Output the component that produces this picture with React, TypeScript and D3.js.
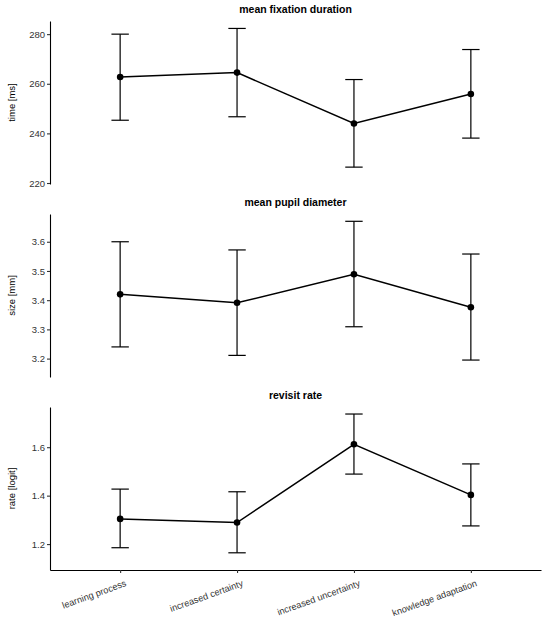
import { useEffect, useRef } from "react"
import * as d3 from "d3"

const categories = ["learning process", "increased certainty", "increased uncertainty", "knowledge adaptation"]

const fixationMean = [262.7, 264.5, 244.0, 255.9]
const fixationLow = [245.3, 246.7, 226.4, 238.1]
const fixationHigh = [280.0, 282.3, 261.7, 273.8]
const fixationTicks = [220, 240, 260, 280]

const pupilMean = [3.42, 3.391, 3.489, 3.376]
const pupilLow = [3.24, 3.211, 3.309, 3.195]
const pupilHigh = [3.6, 3.572, 3.67, 3.558]
const pupilTicks = [3.2, 3.3, 3.4, 3.5, 3.6]

const revisitMean = [1.304, 1.289, 1.612, 1.403]
const revisitLow = [1.185, 1.164, 1.489, 1.275]
const revisitHigh = [1.427, 1.416, 1.737, 1.531]
const revisitTicks = [1.2, 1.4, 1.6]

const FONT = "'Liberation Sans', Arial, Helvetica, sans-serif"

export default function App() {
  const svgRef = useRef<SVGSVGElement>(null)

  useEffect(() => {
    if (!svgRef.current) return
    const svg = d3.select(svgRef.current)
    svg.selectAll("*").remove()

    const width = 550
    const height = 620
    const left = 50
    const right = 541

    const x = d3.scalePoint<string>().domain(categories).range([left, right]).padding(0.6)

    const panels = [
      {
        title: "mean fixation duration",
        ylab: "time [ms]",
        mean: fixationMean,
        low: fixationLow,
        high: fixationHigh,
        ticks: fixationTicks,
        domain: [219.6, 285.3],
        top: 21,
        fmt: d3.format("d"),
      },
      {
        title: "mean pupil diameter",
        ylab: "size [mm]",
        mean: pupilMean,
        low: pupilLow,
        high: pupilHigh,
        ticks: pupilTicks,
        domain: [3.137, 3.695],
        top: 214,
        fmt: d3.format(".1f"),
      },
      {
        title: "revisit rate",
        ylab: "rate [logit]",
        mean: revisitMean,
        low: revisitLow,
        high: revisitHigh,
        ticks: revisitTicks,
        domain: [1.093, 1.766],
        top: 407,
        fmt: d3.format(".1f"),
      },
    ]
    const panelH = 163
    const capHalf = 8.7

    panels.forEach((p, pi) => {
      const y = d3.scaleLinear().domain(p.domain).range([p.top + panelH, p.top])
      const g = svg.append("g")

      // titel
      g.append("text")
        .attr("x", (left + right) / 2)
        .attr("y", p.top - 8)
        .attr("text-anchor", "middle")
        .attr("font-size", "10.5px")
        .attr("font-weight", "bold")
        .attr("fill", "#000")
        .text(p.title)

      // y-as
      const ya = g
        .append("g")
        .attr("transform", `translate(${left},0)`)
        .call(d3.axisLeft(y).tickValues(p.ticks).tickFormat(p.fmt as any).tickSize(3).tickSizeOuter(0).tickPadding(2))
      ya.select(".domain").attr("stroke", "#000").attr("stroke-width", 1.1)
      ya.selectAll(".tick line").attr("stroke", "#333").attr("stroke-width", 1.1)
      ya.selectAll(".tick text").attr("fill", "#333").attr("font-size", "9.5px").attr("font-family", FONT)

      g.append("text")
        .attr("transform", `translate(15,${p.top + panelH / 2}) rotate(-90)`)
        .attr("text-anchor", "middle")
        .attr("font-size", "9.5px")
        .attr("fill", "#000")
        .text(p.ylab)

      // foutbalken
      categories.forEach((c, i) => {
        const cx = x(c) as number
        g.append("line")
          .attr("x1", cx).attr("x2", cx)
          .attr("y1", y(p.low[i])).attr("y2", y(p.high[i]))
          .attr("stroke", "#000").attr("stroke-width", 1.2)
        ;[p.low[i], p.high[i]].forEach((v) => {
          g.append("line")
            .attr("x1", cx - capHalf).attr("x2", cx + capHalf)
            .attr("y1", y(v)).attr("y2", y(v))
            .attr("stroke", "#000").attr("stroke-width", 1.2)
        })
      })

      // lijn
      const line = d3
        .line<number>()
        .x((_, i) => x(categories[i]) as number)
        .y((d) => y(d))
      g.append("path")
        .attr("d", line(p.mean))
        .attr("fill", "none")
        .attr("stroke", "#000")
        .attr("stroke-width", 1.5)

      g.selectAll("circle.pt")
        .data(p.mean)
        .enter()
        .append("circle")
        .attr("class", "pt")
        .attr("cx", (_, i) => x(categories[i]) as number)
        .attr("cy", (d) => y(d))
        .attr("r", 3.3)
        .attr("fill", "#000")

      // x-as alleen onderaan
      if (pi === panels.length - 1) {
        const xa = g
          .append("g")
          .attr("transform", `translate(0,${p.top + panelH})`)
          .call(d3.axisBottom(x).tickSize(3).tickSizeOuter(0).tickPadding(3))
        xa.select(".domain").attr("stroke", "#000").attr("stroke-width", 1.1)
        xa.selectAll(".tick line").attr("stroke", "#333").attr("stroke-width", 1.1)
        xa.selectAll(".tick text")
          .attr("fill", "#333")
          .attr("font-size", "9.2px")
          .attr("font-family", FONT)
          .attr("text-anchor", "end")
          .attr("dy", "0.7em")
          .attr("transform", "translate(2,4) rotate(-20)")
      }
    })

    svg.attr("width", width).attr("height", height).attr("viewBox", [0, 0, width, height])
  }, [])

  return (
    <svg
      ref={svgRef}
      style={{ position: "absolute", left: 0, top: 0, background: "#fff", fontFamily: FONT }}
    ></svg>
  )
}
